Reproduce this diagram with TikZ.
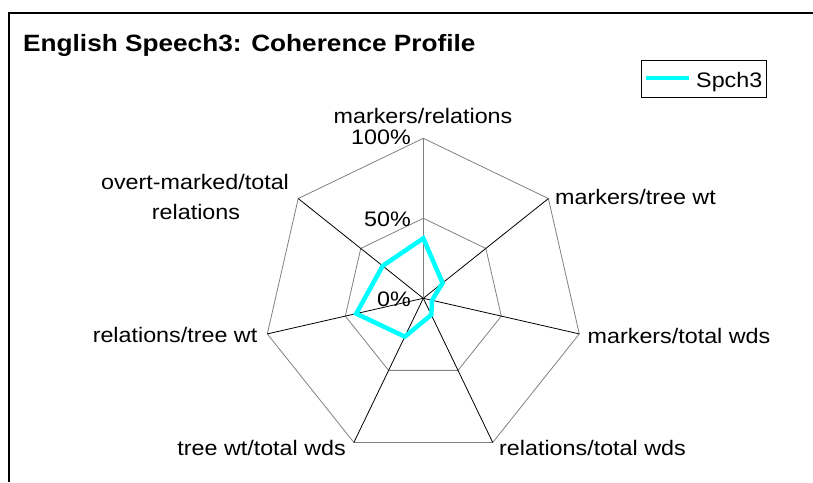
\documentclass[tikz,border=0pt]{standalone}
\usepackage{fontspec}
\setmainfont{Liberation Sans}[FakeStretch=1.11]
\definecolor{gridgray}{RGB}{128,128,128}
\definecolor{seriescyan}{RGB}{0,255,255}
\begin{document}
\begin{tikzpicture}[x=1pt,y=-1pt,
  lbl/.style={inner sep=0pt, font=\fontsize{21}{25}\selectfont},
  titlestyle/.style={inner sep=0pt, font=\fontsize{23.6}{28}\selectfont\bfseries},
  gridline/.style={draw=gridgray, line width=0.8pt},
  axisline/.style={draw=black, line width=0.8pt},
  valaxis/.style={draw=gridgray, line width=1.2pt},
  series/.style={draw=seriescyan, line width=4.5pt, line join=miter},
  frameline/.style={draw=black, line width=1.3pt}]
\useasboundingbox (0,0) rectangle (813,482);
% frame (only top and left edges visible)
\coordinate (fbl) at (9,482);
\coordinate (ftl) at (9,13);
\coordinate (ftr) at (813,13);
\draw[frameline] (fbl) -- (ftl) -- (ftr);
% title
\node[titlestyle, anchor=base west] (title) at (23,51) {English Speech3: Coherence Profile};
% legend
\node[draw=black, line width=0.8pt, minimum width=125pt, minimum height=37pt, anchor=north west, inner sep=0pt] (legend) at (641,60) {};
\coordinate (lgA) at (646,78);
\coordinate (lgB) at (689,78);
\draw[series] (lgA) -- (lgB);
\node[lbl, anchor=base west] (lgtext) at (696,87) {Spch3};
% radar geometry
\coordinate (c) at (423.3,298.3);
\foreach \i in {0,...,6} {
  \path (c) ++({-90+\i*360/7}:160) coordinate (v\i);
  \path (c) ++({-90+\i*360/7}:80) coordinate (h\i);
}
\draw[gridline] (h0) -- (h1) -- (h2) -- (h3) -- (h4) -- (h5) -- (h6) -- cycle;
\draw[gridline] (v0) -- (v1) -- (v2) -- (v3) -- (v4) -- (v5) -- (v6) -- cycle;
\foreach \i in {1,...,6} { \draw[axisline] (c) -- (v\i); }
\draw[valaxis] (c) -- (v0);
% data
\foreach \i/\r in {0/0.375,1/0.154,2/0.056,3/0.115,4/0.266,5/0.43,6/0.325} {
  \path (c) ++({-90+\i*360/7}:{160*\r}) coordinate (d\i);
}
\draw[series] (d0) -- (d1) -- (d2) -- (d3) -- (d4) -- (d5) -- (d6) -- cycle;
% value labels
\node[lbl, anchor=base east] (p100) at (411,144) {100\%};
\node[lbl, anchor=base east] (p50) at (411,226) {50\%};
\node[lbl, anchor=base east] (p0) at (411,306) {0\%};
% category labels
\node[lbl, anchor=base] (lmr) at (423,123) {markers/relations};
\node[lbl, anchor=base west] (lmtw) at (555,204) {markers/tree wt};
\node[lbl, anchor=base west] (lmtwds) at (587.5,343) {markers/total wds};
\node[lbl, anchor=base west] (lrtwds) at (499,455) {relations/total wds};
\node[lbl, anchor=base east] (ltwtw) at (346,455) {tree wt/total wds};
\node[lbl, anchor=base east] (lrtw) at (257.5,342) {relations/tree wt};
\node[lbl, anchor=base] (lom1) at (195,189) {overt-marked/total};
\node[lbl, anchor=base] (lom2) at (196,219) {relations};
\end{tikzpicture}
\end{document}
